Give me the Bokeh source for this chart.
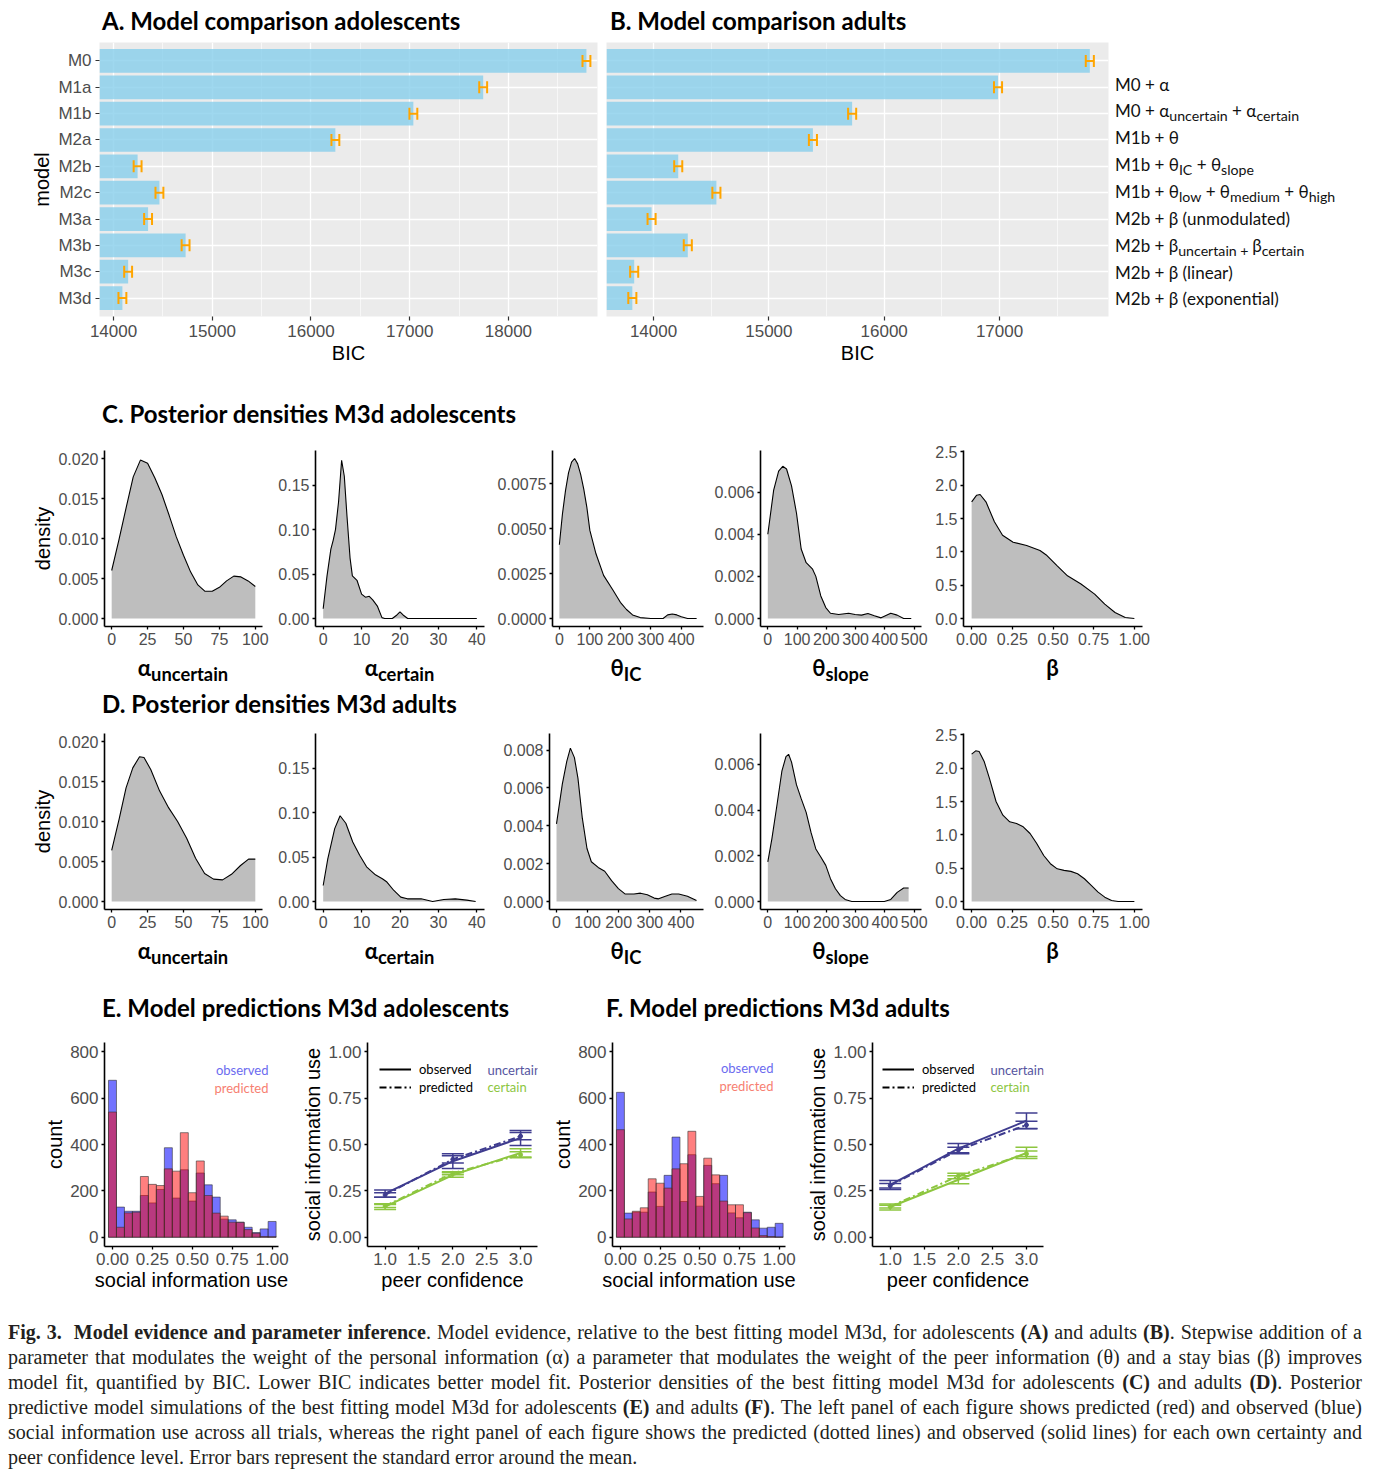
import numpy as np
from bokeh.plotting import figure
from bokeh.models import (Range1d, FactorRange, FixedTicker, PrintfTickFormatter, Whisker, TeeHead,
                          ColumnDataSource, Div, Spacer, Legend, LegendItem, Label)
from bokeh.layouts import row, column
from bokeh.embed import file_html
from bokeh.resources import INLINE

# ---------------- data ----------------
models = ["M0", "M1a", "M1b", "M2a", "M2b", "M2c", "M3a", "M3b", "M3c", "M3d"]
bic_adolescents = [18790, 17744, 17037, 16247, 14244, 14465, 14350, 14730, 14148, 14090]
se_adolescents = [40, 40, 40, 40, 40, 40, 40, 40, 40, 40]
bic_adults = [17783, 16987, 15722, 15382, 14214, 14545, 13983, 14297, 13832, 13816]
se_adults = [35, 35, 35, 35, 35, 35, 35, 35, 35, 35]
model_descriptions = [
    "",
    "M0 + α",
    "M0 + α<sub>uncertain</sub> + α<sub>certain</sub>",
    "M1b + θ",
    "M1b + θ<sub>IC</sub> + θ<sub>slope</sub>",
    "M1b + θ<sub>low</sub> + θ<sub>medium</sub> + θ<sub>high</sub>",
    "M2b + β (unmodulated)",
    "M2b + β<sub>uncertain + </sub>β<sub>certain</sub>",
    "M2b + β (linear)",
    "M2b + β (exponential)",
]

param_labels = ["α<sub>uncertain</sub>", "α<sub>certain</sub>", "θ<sub>IC</sub>", "θ<sub>slope</sub>", "β"]
param_upper = [100, 40, 450, 500, 1.0]

# posterior densities adolescents (C)
C_x = [
    [0, 5, 10, 15, 20, 25, 30, 35, 40, 45, 50, 55, 60, 65, 70, 75, 80, 85, 90, 95, 100],
    [0, 1, 2, 2.6, 3.2, 4, 4.8, 5.5, 6.2, 7, 7.6, 8.8, 10, 11, 12, 12.9, 14.1, 15.3, 16, 18, 19.2, 20, 20.8, 22, 26, 30, 35, 40],
    [0, 10, 20, 30, 40, 50, 60, 70, 80, 90, 100, 120, 145, 175, 200, 220, 240, 265, 300, 340, 355, 370, 385, 400, 420, 450],
    [0, 20, 37, 51, 64, 81, 98, 114, 131, 153, 164, 181, 198, 214, 242, 276, 298, 320, 342, 364, 387, 420, 442, 464, 490],
    [0, 0.031, 0.052, 0.088, 0.14, 0.19, 0.255, 0.338, 0.42, 0.463, 0.526, 0.589, 0.672, 0.756, 0.818, 0.881, 0.944, 1.0],
]
C_d = [
    [0.0060, 0.0098, 0.0138, 0.0177, 0.0198, 0.0194, 0.0176, 0.0155, 0.0129, 0.0102, 0.0079, 0.0058, 0.0042,
     0.0034, 0.0034, 0.0039, 0.0047, 0.0053, 0.0052, 0.0047, 0.0040],
    [0.011, 0.048, 0.078, 0.088, 0.100, 0.131, 0.178, 0.160, 0.115, 0.068, 0.048, 0.043, 0.0275, 0.024, 0.025,
     0.021, 0.014, 0.001, 0.0, 0.0, 0.004, 0.0075, 0.004, 0.0, 0.0, 0.0, 0.0, 0.0],
    [0.0041, 0.0058, 0.0071, 0.0081, 0.0087, 0.0089, 0.0086, 0.0080, 0.0072, 0.0062, 0.0049, 0.0036, 0.0024,
     0.0016, 0.0009, 0.0005, 0.0002, 0.00005, 0.0, 0.0, 0.0002, 0.00025, 0.0002, 0.0001, 0.0, 0.0],
    [0.0040, 0.0061, 0.0070, 0.00723, 0.0071, 0.0063, 0.0050, 0.0033, 0.00265, 0.00234, 0.0020, 0.00107,
     0.00052, 0.00025, 0.00019, 0.00025, 0.00019, 0.00016, 0.00024, 0.00013, 0.00003, 0.00025, 0.00016, 0.0, 0.0],
    [1.75, 1.85, 1.86, 1.75, 1.45, 1.25, 1.145, 1.095, 1.02, 0.944, 0.79, 0.64, 0.517, 0.366, 0.216, 0.09, 0.015, 0.0],
]
C_ylim = [0.02, 0.18, 0.0089, 0.0076, 2.4]

# posterior densities adults (D)
D_x = [
    [0, 5.3, 10, 14.7, 19.4, 22.5, 27.2, 33.4, 39.7, 45.9, 52.2, 58.4, 64.7, 70.9, 77.2, 83.4, 89.7, 95.3, 100],
    [0, 1.2, 3.0, 4.4, 5.9, 7.7, 9.5, 11.3, 13.6, 15.4, 16.6, 18.4, 20.2, 21.9, 25.5, 28.5, 31.4, 34.4, 37.4, 39.7],
    [0, 18.7, 33, 44.6, 57.6, 69, 83, 98, 112, 134, 155, 177, 199, 220, 249, 270, 292, 314, 328, 350, 371, 393, 421, 450],
    [0, 14, 31, 48, 62, 71, 81, 98, 114, 131, 148, 164, 181, 198, 214, 231, 248, 264, 287, 398, 420, 442, 464, 481],
    [0, 0.025, 0.046, 0.077, 0.109, 0.15, 0.192, 0.234, 0.276, 0.317, 0.359, 0.40, 0.443, 0.484, 0.526, 0.568,
     0.61, 0.651, 0.693, 0.735, 0.777, 0.818, 0.86, 0.9, 1.0],
]
D_d = [
    [0.0064, 0.0104, 0.0142, 0.0167, 0.0181, 0.0180, 0.0165, 0.0138, 0.0117, 0.0100, 0.0079, 0.0054, 0.0035,
     0.0028, 0.0027, 0.0034, 0.0045, 0.0053, 0.0053],
    [0.018, 0.048, 0.082, 0.0965, 0.088, 0.067, 0.052, 0.039, 0.030, 0.0256, 0.0219, 0.0124, 0.0049, 0.003,
     0.003, 0.0, 0.0023, 0.003, 0.0015, 0.0],
    [0.0041, 0.0062, 0.0074, 0.0081, 0.0076, 0.0065, 0.0044, 0.0028, 0.0021, 0.0018, 0.0016, 0.0011, 0.00068,
     0.0004, 0.0004, 0.00044, 0.00036, 0.00018, 0.00014, 0.00028, 0.0004, 0.0004, 0.00028, 0.00005],
    [0.00173, 0.00275, 0.0042, 0.0057, 0.00634, 0.00644, 0.0061, 0.0051, 0.0045, 0.0039, 0.0030, 0.0023,
     0.00195, 0.00158, 0.001, 0.00056, 0.00026, 0.00009, 0.0, 0.0, 0.00009, 0.0004, 0.00059, 0.00059],
    [2.21, 2.26, 2.25, 2.10, 1.85, 1.50, 1.295, 1.195, 1.17, 1.12, 1.02, 0.87, 0.69, 0.567, 0.49, 0.467, 0.452,
     0.417, 0.341, 0.241, 0.14, 0.065, 0.015, 0.0, 0.0],
]
D_ylim = [0.02, 0.18, 0.00845, 0.0070, 2.4]

x_ticks = [[0, 25, 50, 75, 100], [0, 10, 20, 30, 40], [0, 100, 200, 300, 400],
           [0, 100, 200, 300, 400, 500], [0, 0.25, 0.5, 0.75, 1.0]]
x_fmts = ["%d", "%d", "%d", "%d", "%.2f"]
C_yticks = [[0, 0.005, 0.01, 0.015, 0.02], [0, 0.05, 0.10, 0.15], [0, 0.0025, 0.005, 0.0075],
            [0, 0.002, 0.004, 0.006], [0, 0.5, 1.0, 1.5, 2.0, 2.5]]
C_yfmts = ["%.3f", "%.2f", "%.4f", "%.3f", "%.1f"]
D_yticks = [[0, 0.005, 0.01, 0.015, 0.02], [0, 0.05, 0.10, 0.15], [0, 0.002, 0.004, 0.006, 0.008],
            [0, 0.002, 0.004, 0.006], [0, 0.5, 1.0, 1.5, 2.0, 2.5]]
D_yfmts = ["%.3f", "%.2f", "%.3f", "%.3f", "%.1f"]

# histograms of social information use
hist_bins = [0.00, 0.05, 0.10, 0.15, 0.20, 0.25, 0.30, 0.35, 0.40, 0.45, 0.50, 0.55, 0.60, 0.65, 0.70,
             0.75, 0.80, 0.85, 0.90, 0.95, 1.00]
bin_width = 0.05
E_observed = [677, 130, 112, 112, 180, 148, 206, 386, 169, 291, 156, 277, 226, 173, 78, 75, 65, 43, 20, 36, 68]
E_predicted = [540, 43, 105, 108, 262, 228, 223, 295, 285, 451, 192, 329, 180, 104, 91, 65, 64, 33, 17, 3, 2]
F_observed = [625, 104, 108, 108, 195, 133, 267, 432, 154, 356, 134, 310, 231, 267, 105, 84, 108, 75, 39, 43, 60]
F_predicted = [464, 79, 112, 127, 252, 233, 212, 295, 317, 457, 176, 341, 269, 156, 140, 140, 106, 40, 7, 3, 1]

# social information use by peer confidence
peer_conf = [1, 2, 3]
E_unc_obs = [0.235, 0.410, 0.535]; E_unc_obs_se = [0.020, 0.040, 0.040]
E_unc_pred = [0.228, 0.420, 0.545]; E_unc_pred_se = [0.012, 0.020, 0.020]
E_cer_obs = [0.165, 0.335, 0.455]; E_cer_obs_se = [0.015, 0.012, 0.022]
E_cer_pred = [0.168, 0.345, 0.445]; E_cer_pred_se = [0.008, 0.008, 0.016]
F_unc_obs = [0.282, 0.478, 0.628]; F_unc_obs_se = [0.024, 0.028, 0.042]
F_unc_pred = [0.278, 0.470, 0.605]; F_unc_pred_se = [0.012, 0.015, 0.020]
F_cer_obs = [0.163, 0.310, 0.455]; F_cer_obs_se = [0.016, 0.022, 0.030]
F_cer_pred = [0.165, 0.330, 0.450]; F_cer_pred_se = [0.008, 0.015, 0.015]

# ---------------- styles ----------------
AX_FONT = "Liberation Sans"
UI_FONT = "Lato, 'Open Sans', sans-serif"
TICK_COL = "#4D4D4D"
UNC_COL = "#3F3C8F"
CER_COL = "#8DC63F"
PRED_DASH = "7 3 2 3"


def gray_theme(p):
    p.background_fill_color = "#EBEBEB"
    p.border_fill_color = "white"
    p.outline_line_color = None
    p.xgrid.grid_line_color = "white"
    p.xgrid.grid_line_width = 1.3
    p.xgrid.minor_grid_line_color = "white"
    p.xgrid.minor_grid_line_width = 0.6
    p.ygrid.grid_line_color = "white"
    p.ygrid.grid_line_width = 1.3
    for ax in list(p.xaxis) + list(p.yaxis):
        ax.axis_line_color = None
        ax.major_tick_line_color = "#333333"
        ax.major_tick_line_width = 1.2
        ax.major_tick_out = 4
        ax.major_tick_in = 0
        ax.minor_tick_line_color = None
        ax.major_label_standoff = 4
        ax.major_label_text_font = AX_FONT
        ax.major_label_text_font_size = "17px"
        ax.major_label_text_color = TICK_COL
        ax.axis_label_text_font = AX_FONT
        ax.axis_label_text_font_size = "20px"
        ax.axis_label_text_font_style = "normal"
        ax.axis_label_text_color = "black"
        ax.axis_label_standoff = 2


def classic_theme(p, tick_size="16px"):
    p.outline_line_color = None
    p.background_fill_color = "white"
    p.xgrid.grid_line_color = None
    p.ygrid.grid_line_color = None
    for ax in list(p.xaxis) + list(p.yaxis):
        ax.axis_line_color = "black"
        ax.axis_line_width = 1.6
        ax.major_tick_line_color = "black"
        ax.major_tick_line_width = 1.3
        ax.major_tick_out = 3
        ax.major_tick_in = 0
        ax.minor_tick_line_color = None
        ax.major_label_standoff = 3
        ax.major_label_text_font = AX_FONT
        ax.major_label_text_font_size = tick_size
        ax.major_label_text_color = TICK_COL
        ax.axis_label_text_font = AX_FONT
        ax.axis_label_text_font_size = "20px"
        ax.axis_label_text_font_style = "normal"
        ax.axis_label_text_color = "black"
        ax.axis_label_standoff = 1


def bic_fig(bic, se, xr, ticks, minor, width, mbl, mbr, show_labels):
    src = ColumnDataSource(dict(model=models, bic=bic,
                                lo=[b - s for b, s in zip(bic, se)],
                                hi=[b + s for b, s in zip(bic, se)]))
    p = figure(width=width, height=356, output_backend="svg", toolbar_location=None,
               y_range=FactorRange(factors=models[::-1], range_padding=0.2, range_padding_units="absolute"),
               x_range=Range1d(*xr), min_border_left=mbl, min_border_right=mbr,
               min_border_top=8, min_border_bottom=74, margin=0)
    p.hbar(y="model", left=0, right="bic", height=0.9, source=src,
           fill_color="#87CEEB", fill_alpha=0.8, line_color=None)
    w = Whisker(source=src, base="model", lower="lo", upper="hi", dimension="width",
                line_color="#FFA500", line_width=2, level="overlay",
                lower_head=TeeHead(size=12, line_color="#FFA500", line_width=2),
                upper_head=TeeHead(size=12, line_color="#FFA500", line_width=2))
    p.add_layout(w)
    p.xaxis.ticker = FixedTicker(ticks=ticks, minor_ticks=minor)
    p.xaxis.axis_label = "BIC"
    gray_theme(p)
    if show_labels:
        p.yaxis.axis_label = "model"
    else:
        # the model names are only shown once (panel A); the right side carries descriptions
        p.yaxis.visible = False
    return p


def density_fig(xs, ds, xmax, ylim, xt, xf, yt, yf, width, mbl, mbr, mbt, ylabel=None):
    p = figure(width=width, height=mbt + 176 + 29, output_backend="svg", toolbar_location=None,
               x_range=Range1d(-0.05 * xmax, 1.05 * xmax), y_range=Range1d(-0.05 * ylim, 1.05 * ylim),
               min_border_left=mbl, min_border_right=mbr, min_border_top=mbt, min_border_bottom=29, margin=0)
    p.varea(x=xs, y1=0, y2=ds, fill_color="#BEBEBE")
    p.line(xs, ds, line_color="black", line_width=1.1)
    classic_theme(p)
    p.xaxis.ticker = FixedTicker(ticks=xt)
    p.xaxis.formatter = PrintfTickFormatter(format=xf)
    p.yaxis.ticker = FixedTicker(ticks=yt)
    p.yaxis.formatter = PrintfTickFormatter(format=yf)
    if ylabel:
        p.yaxis.axis_label = ylabel
    return p


def xlabel_div(html, width, mbl, frame_w):
    return Div(text=(f'<div style="margin-left:{mbl}px;width:{frame_w}px;text-align:center;'
                     f'font-family:{UI_FONT};font-weight:bold;font-size:22px;line-height:26px;'
                     f'color:black;white-space:nowrap">{html}</div>'),
               width=width, height=32, margin=0)


def title_div(text, width, height, pad, lh):
    return Div(text=(f'<div style="padding-top:{pad}px;line-height:{lh}px;font-family:{UI_FONT};'
                     f'font-weight:bold;font-size:24px;color:black;white-space:nowrap">{text}</div>'),
               width=width, height=height, margin=0)


# geometry of the five density panels: (canvas width, left border, right border, frame width)
dens_geom = [(262, 96, 8, 158), (224, 45, 10, 169), (214, 55, 5, 154), (222, 52, 9, 161), (220, 33, 8, 179)]


def density_row(X, Dd, ylims, yticks, yfmts, mbt):
    cols = []
    for i in range(5):
        w, mbl, mbr, fw = dens_geom[i]
        p = density_fig(X[i], Dd[i], param_upper[i], ylims[i], x_ticks[i], x_fmts[i], yticks[i], yfmts[i],
                        w, mbl, mbr, mbt, ylabel="density" if i == 0 else None)
        cols.append(column(p, xlabel_div(param_labels[i], w, mbl, fw), spacing=0, margin=0))
    return row(*cols, spacing=0, margin=0)


def hist_fig(obs, pred, width, mbl, mbr, lab_x, lab_y):
    left = [b - bin_width / 2 for b in hist_bins]
    right = [b + bin_width / 2 for b in hist_bins]
    p = figure(width=width, height=270, output_backend="svg", toolbar_location=None,
               x_range=Range1d(-0.05, 1.04), y_range=Range1d(-40, 840),
               min_border_left=mbl, min_border_right=mbr, min_border_top=12, min_border_bottom=54, margin=0)
    p.quad(left=left, right=right, bottom=0, top=obs, fill_color="#0000FF", fill_alpha=0.55,
           line_color="#333333", line_width=0.7, line_alpha=0.85)
    p.quad(left=left, right=right, bottom=0, top=pred, fill_color="#FF0000", fill_alpha=0.5,
           line_color="#333333", line_width=0.7, line_alpha=0.85)
    classic_theme(p, "17px")
    p.xaxis.ticker = FixedTicker(ticks=[0, 0.25, 0.5, 0.75, 1.0])
    p.xaxis.formatter = PrintfTickFormatter(format="%.2f")
    p.yaxis.ticker = FixedTicker(ticks=[0, 200, 400, 600, 800])
    p.xaxis.axis_label = "social information use"
    p.yaxis.axis_label = "count"
    p.add_layout(Label(x=lab_x, y=lab_y, x_units="screen", y_units="screen", text="observed",
                       text_align="right", text_baseline="middle", text_color="#6B6BEF",
                       text_font="Lato", text_font_size="13px"))
    p.add_layout(Label(x=lab_x, y=lab_y - 18, x_units="screen", y_units="screen", text="predicted",
                       text_align="right", text_baseline="middle", text_color="#F77F72",
                       text_font="Lato", text_font_size="13px"))
    return p


def line_fig(series, width, mbl, mbr, leg_x, lab_x):
    p = figure(width=width, height=270, output_backend="svg", toolbar_location=None,
               x_range=Range1d(0.74, 3.25), y_range=Range1d(-0.05, 1.05),
               min_border_left=mbl, min_border_right=mbr, min_border_top=12, min_border_bottom=54, margin=0)
    for obs, obs_se, pred, pred_se, col in series:
        src = ColumnDataSource(dict(x=peer_conf, obs=obs, pred=pred,
                                    olo=[m - s for m, s in zip(obs, obs_se)], ohi=[m + s for m, s in zip(obs, obs_se)],
                                    plo=[m - s for m, s in zip(pred, pred_se)], phi=[m + s for m, s in zip(pred, pred_se)]))
        p.line("x", "obs", source=src, line_color=col, line_width=2)
        p.line("x", "pred", source=src, line_color=col, line_width=2, line_dash=PRED_DASH)
        for lo, hi in (("olo", "ohi"), ("plo", "phi")):
            p.add_layout(Whisker(source=src, base="x", lower=lo, upper=hi, dimension="height",
                                 line_color=col, line_width=1.5, level="overlay",
                                 lower_head=TeeHead(size=22, line_color=col, line_width=1.5),
                                 upper_head=TeeHead(size=22, line_color=col, line_width=1.5)))
        p.scatter("x", "pred", source=src, size=4, color=col)
    classic_theme(p, "17px")
    p.xaxis.ticker = FixedTicker(ticks=[1.0, 1.5, 2.0, 2.5, 3.0])
    p.xaxis.formatter = PrintfTickFormatter(format="%.1f")
    p.yaxis.ticker = FixedTicker(ticks=[0, 0.25, 0.5, 0.75, 1.0])
    p.yaxis.formatter = PrintfTickFormatter(format="%.2f")
    p.xaxis.axis_label = "peer confidence"
    p.yaxis.axis_label = "social information use"
    # legend-key renderers: a single point each, so nothing shows in the plot itself
    first_obs, first_pred = series[0][0], series[0][2]
    r_obs = p.line(x=peer_conf[:1], y=first_obs[:1], line_color="black", line_width=2)
    r_pred = p.line(x=peer_conf[:1], y=first_pred[:1], line_color="black", line_width=2, line_dash=PRED_DASH)
    leg = Legend(items=[LegendItem(label="observed", renderers=[r_obs]),
                        LegendItem(label="predicted", renderers=[r_pred])],
                 location=(leg_x, 151), padding=0, margin=0, spacing=2, glyph_width=32, glyph_height=16,
                 label_height=16, label_standoff=8, border_line_color=None, background_fill_alpha=0,
                 label_text_font="Lato", label_text_font_size="13px", label_text_color="black")
    p.add_layout(leg)
    p.add_layout(Label(x=lab_x, y=177, x_units="screen", y_units="screen", text="uncertain",
                       text_baseline="middle", text_color="#56559F", text_font="Lato", text_font_size="13px"))
    p.add_layout(Label(x=lab_x, y=160, x_units="screen", y_units="screen", text="certain",
                       text_baseline="middle", text_color=CER_COL, text_font="Lato", text_font_size="13px"))
    return p


# ---------------- panels ----------------
figA = bic_fig(bic_adolescents, se_adolescents, (13858, 18902), [14000, 15000, 16000, 17000, 18000],
               [13500, 14500, 15500, 16500, 17500, 18500], 590, 91, 1, True)
figB = bic_fig(bic_adults, se_adults, (13592, 17945), [14000, 15000, 16000, 17000],
               [13500, 14500, 15500, 16500, 17500], 512, 8, 2, False)

lines_html = "".join(
    f'<div style="height:26.86px;line-height:26.86px;white-space:nowrap">{d if d else "&nbsp;"}</div>'
    for d in model_descriptions)
divB = Div(text=(f'<div style="padding-top:10.7px;padding-left:5px;font-family:{UI_FONT};font-size:17px;'
                 f'color:#111111">{lines_html}</div>'), width=260, height=356, margin=0)

titles_AB = row(Spacer(width=94, height=26, margin=0),
                title_div("A. Model comparison adolescents", 508, 26, 0, 26),
                title_div("B. Model comparison adults", 760, 26, 0, 26), spacing=0, margin=0)
row_AB = row(figA, figB, divB, spacing=0, margin=0)

title_C = row(Spacer(width=94, height=48, margin=0),
              title_div("C. Posterior densities M3d adolescents", 1268, 48, 9, 30), spacing=0, margin=0)
row_C = density_row(C_x, C_d, C_ylim, C_yticks, C_yfmts, 12)
title_D = row(Spacer(width=94, height=31, margin=0),
              title_div("D. Posterior densities M3d adults", 1268, 31, 2, 30), spacing=0, margin=0)
row_D = density_row(D_x, D_d, D_ylim, D_yticks, D_yfmts, 15)

title_EF = row(Spacer(width=94, height=60, margin=0),
               title_div("E. Model predictions M3d adolescents", 504, 60, 23, 30),
               title_div("F. Model predictions M3d adults", 764, 60, 23, 30), spacing=0, margin=0)

histE = hist_fig(E_observed, E_predicted, 288, 96, 18, 164, 177)
lineE = line_fig([(E_unc_obs, E_unc_obs_se, E_unc_pred, E_unc_pred_se, UNC_COL),
                  (E_cer_obs, E_cer_obs_se, E_cer_pred, E_cer_pred_se, CER_COL)], 253, 71, 12, 12, 120)
histF = hist_fig(F_observed, F_predicted, 251, 60, 15, 161, 179)
lineF = line_fig([(F_unc_obs, F_unc_obs_se, F_unc_pred, F_unc_pred_se, UNC_COL),
                  (F_cer_obs, F_cer_obs_se, F_cer_pred, F_cer_pred_se, CER_COL)], 264, 72, 21, 10, 118)
row_EF = row(histE, lineE, histF, lineF, spacing=0, margin=0)

cap_lines = [
    "<b>Fig. 3.&nbsp; Model evidence and parameter inference</b>. Model evidence, relative to the best fitting "
    "model M3d, for adolescents <b>(A)</b> and adults <b>(B)</b>. Stepwise addition of a",
    "parameter that modulates the weight of the personal information (α) a parameter that modulates the weight "
    "of the peer information (θ) and a stay bias (β) improves",
    "model fit, quantified by BIC. Lower BIC indicates better model fit. Posterior densities of the best fitting "
    "model M3d for adolescents <b>(C)</b> and adults <b>(D)</b>. Posterior",
    "predictive model simulations of the best fitting model M3d for adolescents <b>(E)</b> and adults "
    "<b>(F)</b>. The left panel of each figure shows predicted (red) and observed (blue)",
    "social information use across all trials, whereas the right panel of each figure shows the predicted "
    "(dotted lines) and observed (solid lines) for each own certainty and",
    "peer confidence level. Error bars represent the standard error around the mean.",
]
cap_html = "".join(
    f'<div style="text-align:{"justify" if i < 5 else "left"};text-align-last:{"justify" if i < 5 else "left"}">{t}</div>'
    for i, t in enumerate(cap_lines))
caption = Div(text=(f'<div style="padding-top:20px;font-family:\'Liberation Serif\';font-size:20px;'
                    f'line-height:25px;color:#231F20;width:1354px">{cap_html}</div>'),
              width=1354, height=172, margin=0)

content = column(titles_AB, row_AB, title_C, row_C, title_D, row_D, title_EF, row_EF, caption,
                 spacing=0, margin=0)
layout = row(Spacer(width=8, height=10, margin=0),
             column(Spacer(width=10, height=8, margin=0), content, spacing=0, margin=0),
             spacing=0, margin=0)

open("out.html", "w").write(file_html(layout, INLINE))
